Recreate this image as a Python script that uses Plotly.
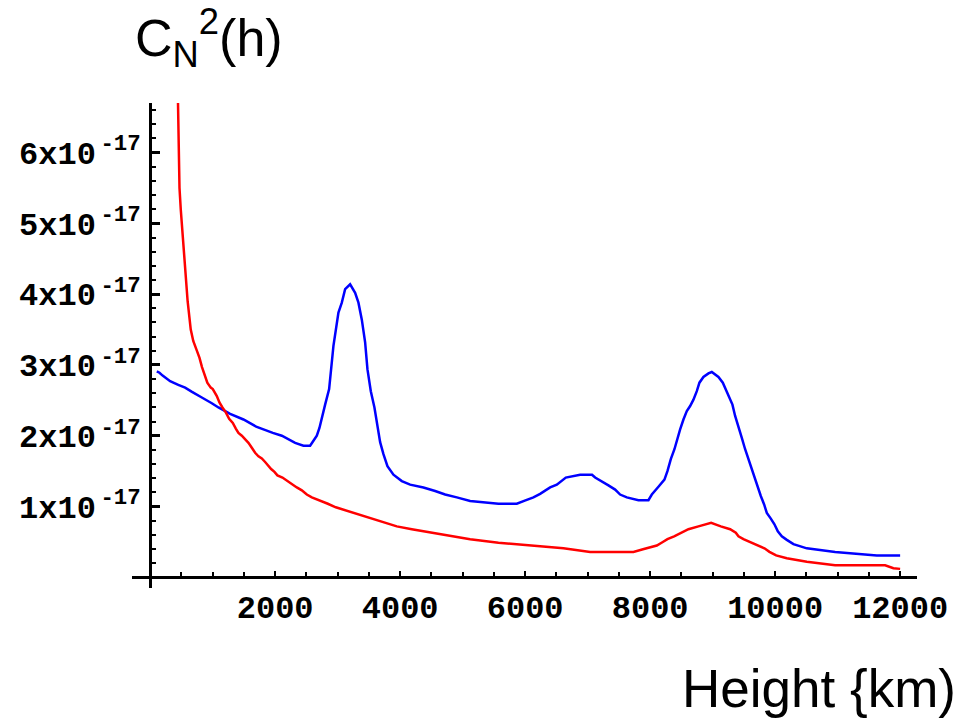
import plotly.graph_objects as go

# ---- data (heights in km, C_N^2 in units of 1e-17) ----
SCALE = 1e-17

blue_h = [107, 150, 200, 320, 450, 560, 670, 760, 827, 987, 1093, 1280, 1493, 1696, 1840,
          1963, 2107, 2224, 2320, 2453, 2560, 2613, 2667, 2709, 2757, 2800, 2864, 2933,
          3013, 3067, 3120, 3200, 3280, 3333, 3387, 3440, 3477, 3531, 3589, 3637, 3680,
          3733, 3797, 3893, 4027, 4160, 4373, 4560, 4720, 4907, 5120, 5573, 5867, 5984,
          6133, 6240, 6320, 6400, 6507, 6587, 6651, 6880, 7070, 7120, 7227, 7333, 7440,
          7520, 7627, 7813, 7973, 8027, 8133, 8229, 8277, 8331, 8389, 8437, 8480, 8533,
          8587, 8640, 8693, 8747, 8789, 8853, 8933, 8987, 9093, 9163, 9211, 9264, 9317,
          9360, 9413, 9467, 9520, 9573, 9616, 9664, 9717, 9771, 9824, 9867, 9931, 9989,
          10043, 10107, 10187, 10293, 10507, 10960, 11627, 12000]
blue_v = [2.91, 2.89, 2.85, 2.77, 2.72, 2.68, 2.62, 2.58, 2.54, 2.46, 2.40, 2.31, 2.23, 2.13, 2.08,
          2.04, 2.00, 1.94, 1.90, 1.86, 1.86, 1.93, 2.00, 2.11, 2.30, 2.44, 2.66, 3.27,
          3.74, 3.88, 4.07, 4.14, 4.02, 3.88, 3.64, 3.32, 2.94, 2.63, 2.40, 2.16, 1.91,
          1.74, 1.57, 1.45, 1.36, 1.31, 1.27, 1.22, 1.17, 1.13, 1.08, 1.04, 1.04, 1.08,
          1.13, 1.18, 1.23, 1.27, 1.31, 1.36, 1.41, 1.45, 1.45, 1.41, 1.36, 1.30, 1.24,
          1.17, 1.13, 1.09, 1.09, 1.17, 1.28, 1.38, 1.50, 1.67, 1.81, 1.97, 2.09, 2.23,
          2.35, 2.42, 2.51, 2.63, 2.75, 2.83, 2.88, 2.90, 2.83, 2.75, 2.66, 2.56, 2.44,
          2.28, 2.14, 1.97, 1.81, 1.67, 1.55, 1.41, 1.27, 1.15, 1.03, 0.91, 0.83, 0.75,
          0.65, 0.58, 0.53, 0.47, 0.41, 0.36, 0.31, 0.31]

red_h = [420, 445, 470, 490, 545, 600, 650, 690, 740, 790, 830, 880, 915, 970, 1003, 1067,
         1109, 1157, 1211, 1264, 1323, 1371, 1413, 1467, 1520, 1573, 1627, 1680, 1733,
         1787, 1840, 1883, 1936, 1989, 2037, 2117, 2197, 2277, 2347, 2427, 2507, 2587,
         2709, 2843, 2971, 3120, 3280, 3429, 3600, 3787, 3947, 4187, 4507, 4827, 5120,
         5573, 6080, 6613, 7040, 7733, 7900, 8107, 8203, 8277, 8384, 8507, 8613, 8773,
         8976, 9131, 9280, 9371, 9413, 9493, 9627, 9760, 9829, 9909, 10016, 10187, 10507,
         10960, 11760, 11893, 12000]
red_v = [8.0, 6.6, 5.5, 5.2, 4.5, 3.9, 3.5, 3.34, 3.22, 3.1, 2.97, 2.85, 2.75, 2.68, 2.66, 2.56,
         2.47, 2.40, 2.33, 2.24, 2.18, 2.10, 2.04, 2.00, 1.95, 1.90, 1.83, 1.76, 1.71,
         1.68, 1.63, 1.58, 1.53, 1.49, 1.44, 1.41, 1.36, 1.31, 1.27, 1.23, 1.17, 1.13,
         1.09, 1.04, 0.99, 0.95, 0.90, 0.86, 0.81, 0.77, 0.72, 0.68, 0.63, 0.58, 0.54,
         0.49, 0.45, 0.41, 0.36, 0.36, 0.40, 0.45, 0.50, 0.54, 0.58, 0.63, 0.68, 0.72,
         0.77, 0.72, 0.68, 0.63, 0.58, 0.54, 0.49, 0.44, 0.41, 0.36, 0.31, 0.27, 0.22,
         0.17, 0.17, 0.13, 0.12]

x_ticks = [2000, 4000, 6000, 8000, 10000, 12000]
x_ticktext = ["2000", "4000", "6000", "8000", "10000", "12000"]
y_ticks = [1, 2, 3, 4, 5, 6]
y_ticktext = [f"{k}x10<sup>\u2009-17</sup>" for k in y_ticks]

# ---- layout geometry ----
W, H = 969, 719
ML, MR, MT, MB = 132, 52, 103, 131
XR = [-290, 12270]
YR = [-0.15, 6.70]

def px_x(p):
    return (p - ML) / (W - ML - MR)

def px_y(p):
    return (H - MB - p) / (H - MT - MB)

x_zero_pos = (0 - XR[0]) / (XR[1] - XR[0])
y_zero_pos = (0 - YR[0]) / (YR[1] - YR[0])

fig = go.Figure()
fig.add_trace(go.Scatter(x=blue_h, y=[v * SCALE for v in blue_v], mode="lines",
                         line=dict(color="#0000FF", width=2.5), showlegend=False))
fig.add_trace(go.Scatter(x=red_h, y=[v * SCALE for v in red_v], mode="lines",
                         line=dict(color="#FF0000", width=2.5), showlegend=False))

tickfont = dict(family="Liberation Mono", size=32, color="black", weight="bold")

fig.update_layout(
    width=W, height=H,
    margin=dict(l=ML, r=MR, t=MT, b=MB, autoexpand=False),
    paper_bgcolor="white", plot_bgcolor="white",
    xaxis=dict(
        range=XR, domain=[0, 1], anchor="free", position=y_zero_pos,
        automargin=False,
        showgrid=False, zeroline=False,
        showline=True, linecolor="black", linewidth=3,
        tickmode="array", tickvals=x_ticks, ticktext=x_ticktext,
        ticks="inside", ticklen=5, tickwidth=2, tickcolor="black",
        tickfont=tickfont,
        minor=dict(tick0=0, dtick=500, ticks="inside", ticklen=4, tickwidth=2,
                   tickcolor="black", showgrid=False),
    ),
    yaxis=dict(
        range=[YR[0] * SCALE, YR[1] * SCALE], domain=[0, 1], anchor="free",
        position=x_zero_pos, side="left", automargin=False,
        showgrid=False, zeroline=False,
        showline=True, linecolor="black", linewidth=3,
        tickmode="array", tickvals=[t * SCALE for t in y_ticks], ticktext=y_ticktext,
        ticks="inside", ticklen=8, tickwidth=2.5, tickcolor="black",
        tickfont=tickfont, ticklabelstandoff=2,
        minor=dict(tick0=0, dtick=0.2 * SCALE, ticks="inside", ticklen=4, tickwidth=2,
                   tickcolor="black", showgrid=False),
    ),
    annotations=[
        dict(text="C<sub>N</sub><sup>2</sup>(h)", xref="paper", yref="paper",
             x=px_x(134), y=px_y(0), xanchor="left", yanchor="top", showarrow=False,
             borderpad=0,
             font=dict(family="Liberation Sans", size=52, color="black")),
        dict(text="Height {km)", xref="paper", yref="paper",
             x=px_x(957), y=px_y(719), xanchor="right", yanchor="bottom", showarrow=False,
             borderpad=0,
             font=dict(family="Liberation Sans", size=53, color="black")),
    ],
)

fig.write_html("out.html",
               config={"displayModeBar": False},
               post_script="document.body.style.margin='0px';document.body.style.overflow='hidden';")
